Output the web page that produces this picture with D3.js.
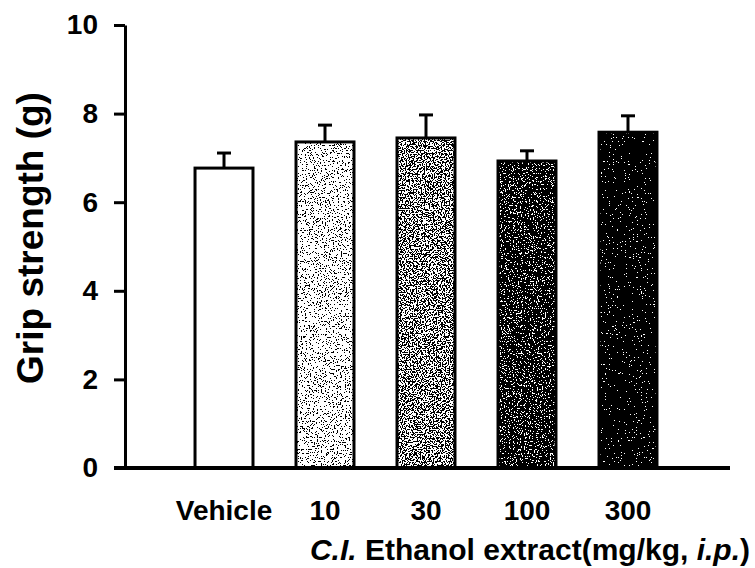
<!DOCTYPE html>
<html>
<head>
<meta charset="utf-8">
<script src="https://cdn.jsdelivr.net/npm/d3@7"></script>
<style>
  html, body { margin: 0; padding: 0; background: #fff; }
  svg { display: block; font-family: "Liberation Sans", Arial, sans-serif; font-weight: bold; }
</style>
</head>
<body>
<svg id="chart" width="755" height="568"></svg>
<script>
const categories = ["Vehicle", "10", "30", "100", "300"];
const means = [6.77, 7.36, 7.45, 6.93, 7.58];
const sems = [0.34, 0.38, 0.52, 0.23, 0.37];
const yTicks = [0, 2, 4, 6, 8, 10];
// stipple darkness per bar (fraction of the noise range rendered black)
const shades = [0, 0.38, 0.49, 0.61, 0.72];

const svg = d3.select("#chart");
const defs = svg.append("defs");

shades.forEach((t, i) => {
  const f = defs.append("filter").attr("id", "grain" + i)
    .attr("x", 0).attr("y", 0).attr("width", 1).attr("height", 1)
    .attr("color-interpolation-filters", "sRGB");
  f.append("feTurbulence").attr("type", "fractalNoise").attr("baseFrequency", 0.75)
    .attr("numOctaves", 2).attr("seed", 7 + i).attr("result", "n");
  f.append("feColorMatrix").attr("in", "n").attr("type", "matrix")
    .attr("values", "1 0 0 0 0  1 0 0 0 0  1 0 0 0 0  0 0 0 0 1").attr("result", "g");
  const n = 50, k = Math.round(t * n);
  const table = d3.range(n).map(j => j < k ? 0 : 1).join(" ");
  const ct = f.append("feComponentTransfer").attr("in", "g").attr("result", "b");
  ["feFuncR", "feFuncG", "feFuncB"].forEach(fn => ct.append(fn).attr("type", "discrete").attr("tableValues", table));
  f.append("feComposite").attr("in", "b").attr("in2", "SourceGraphic").attr("operator", "in");
});

const y = d3.scaleLinear().domain([0, 10]).range([468, 25]);
const x = d3.scaleBand().domain(categories).range([152, 700]).paddingInner(0.426).paddingOuter(0.426);

// y axis
const yAxis = d3.axisLeft(y).tickValues(yTicks).tickSize(11).tickPadding(16).tickSizeOuter(0);
const gy = svg.append("g").attr("transform", "translate(125,0)").call(yAxis);
gy.select(".domain").attr("stroke", "#000").attr("stroke-width", 3);
gy.selectAll(".tick line").attr("stroke", "#000").attr("stroke-width", 3);
gy.selectAll(".tick text").attr("font-size", 28).attr("font-weight", "bold")
  .attr("font-family", "Liberation Sans, Arial, sans-serif").attr("fill", "#000");

// bar textures
svg.append("g").selectAll("rect").data(categories).join("rect")
  .attr("x", d => x(d))
  .attr("y", (d, i) => y(means[i]))
  .attr("width", x.bandwidth())
  .attr("height", (d, i) => y(0) - y(means[i]))
  .attr("fill", "#fff")
  .attr("filter", (d, i) => shades[i] > 0 ? "url(#grain" + i + ")" : null);

// bar outlines
svg.append("g").selectAll("rect").data(categories).join("rect")
  .attr("x", d => x(d))
  .attr("y", (d, i) => y(means[i]))
  .attr("width", x.bandwidth())
  .attr("height", (d, i) => y(0) - y(means[i]))
  .attr("fill", "none")
  .attr("stroke", "#000")
  .attr("stroke-width", 3);

// error bars
const eg = svg.append("g").attr("stroke", "#000").attr("stroke-width", 3);
eg.selectAll("line.v").data(categories).join("line").attr("class", "v")
  .attr("x1", d => x(d) + x.bandwidth() / 2).attr("x2", d => x(d) + x.bandwidth() / 2)
  .attr("y1", (d, i) => y(means[i])).attr("y2", (d, i) => y(means[i] + sems[i]));
eg.selectAll("line.c").data(categories).join("line").attr("class", "c")
  .attr("x1", d => x(d) + x.bandwidth() / 2 - 7).attr("x2", d => x(d) + x.bandwidth() / 2 + 7)
  .attr("y1", (d, i) => y(means[i] + sems[i])).attr("y2", (d, i) => y(means[i] + sems[i]));

// x axis line
svg.append("line").attr("x1", 114).attr("x2", 730).attr("y1", y(0)).attr("y2", y(0))
  .attr("stroke", "#000").attr("stroke-width", 4);

// x labels
svg.append("g").selectAll("text").data(categories).join("text")
  .attr("x", d => x(d) + x.bandwidth() / 2)
  .attr("y", 520)
  .attr("text-anchor", "middle")
  .attr("font-size", 28)
  .text(d => d);

// x title
const xt = svg.append("text").attr("x", 750).attr("y", 560).attr("text-anchor", "end").attr("font-size", 30);
xt.append("tspan").attr("font-style", "italic").text("C.I.");
xt.append("tspan").text(" Ethanol extract(mg/kg, ");
xt.append("tspan").attr("font-style", "italic").text("i.p.");
xt.append("tspan").text(")");

// y title
svg.append("text")
  .attr("transform", "translate(43,238) rotate(-90)")
  .attr("text-anchor", "middle")
  .attr("font-size", 37)
  .text("Grip strength (g)");
</script>
</body>
</html>
